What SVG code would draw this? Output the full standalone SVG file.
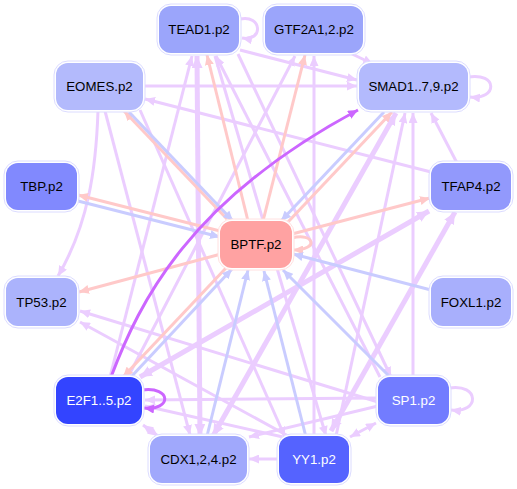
<svg xmlns="http://www.w3.org/2000/svg" width="517" height="489" viewBox="0 0 517 489">
<style>
.e{fill:none;stroke-width:3}
.lav{stroke:#ebcdff;marker-end:url(#aL)}
.lavb{stroke:#ebcdff;stroke-width:5;marker-end:url(#aLT);marker-start:url(#aLT)}
.lav2{stroke:#ebcdff;marker-end:url(#aL);marker-start:url(#aL)}
.pk{stroke:#ffc9c9;marker-end:url(#aP)}
.bl{stroke:#c9ccff;marker-end:url(#aB)}
.pu{stroke:#cc66ff;marker-end:url(#aD)}
.ring{fill:#fff;stroke:#dcdcff;stroke-width:1}
.n text{font-family:"Liberation Sans",Arial,sans-serif;font-size:13.3px;text-anchor:middle;fill:#000}
.n text.w{fill:#fff}
</style>
<defs>
<marker id="aL" markerUnits="userSpaceOnUse" markerWidth="11" markerHeight="9" refX="10" refY="4.5" orient="auto-start-reverse"><path d="M0,0 L10,4.5 L0,9 z" fill="#ebcdff"/></marker>
<marker id="aLT" markerUnits="userSpaceOnUse" markerWidth="13" markerHeight="11" refX="12" refY="5.5" orient="auto-start-reverse"><path d="M0,0 L12,5.5 L0,11 z" fill="#ebcdff"/></marker>
<marker id="aP" markerUnits="userSpaceOnUse" markerWidth="11" markerHeight="9" refX="10" refY="4.5" orient="auto"><path d="M0,0 L10,4.5 L0,9 z" fill="#ffc9c9"/></marker>
<marker id="aB" markerUnits="userSpaceOnUse" markerWidth="11" markerHeight="9" refX="10" refY="4.5" orient="auto"><path d="M0,0 L10,4.5 L0,9 z" fill="#c9ccff"/></marker>
<marker id="aD" markerUnits="userSpaceOnUse" markerWidth="11" markerHeight="9" refX="10" refY="4.5" orient="auto"><path d="M0,0 L10,4.5 L0,9 z" fill="#cc66ff"/></marker>
</defs>
<rect width="517" height="489" fill="#fff"/>
<g id="edges">
<!-- lavender -->
<path class="e lav" d="M240,19 C262,14 264,42 242,38"/>
<path class="e lav" d="M468,77 C498,72 498,100 470,97"/>
<path class="e lav" d="M449,388 C480,383 480,414 451,410"/>
<path class="e lav" d="M240,50 L357,80"/>
<path class="e lav" d="M350,53 L373,64"/>
<path class="e lav" d="M143,86 L357,86"/>
<path class="e lav" d="M431,172 L145,99"/>
<path class="e lav" d="M98,111 C96,170 88,225 58,276"/>
<path class="e lav" d="M105,111 L190,435"/>
<path class="e lav" d="M110,377 L192,56"/>
<path class="e lavb" d="M200,436 L197,56"/>
<path class="e lav" d="M215,56 L326,436"/>
<path class="e lav" d="M380,377 L216,56"/>
<path class="e lav" d="M238,54 L391,377"/>
<path class="e lav" d="M128,377 L295,56"/>
<path class="e lav" d="M314,436 L314,56"/>
<path class="e lav" d="M336,436 L405,113"/>
<path class="e lav" d="M413,377 L413,113"/>
<path class="e lav" d="M457,163 L431,113"/>
<path class="e lavb" d="M213,436 L396,113"/>
<path class="e lavb" d="M140,377 L429,211"/>
<path class="e lavb" d="M331,431 L455,212"/>
<path class="e lav" d="M378,402 L80,311"/>
<path class="e lav" d="M290,437 L80,322"/>
<path class="e lav" d="M378,398 L145,400"/>
<path class="e lav" d="M283,437 L145,406"/>
<path class="e lav" d="M378,406 L249,437"/>
<path class="e lav" d="M279,459 L249,459"/>
<path class="e lav2" d="M143,425 L158,436"/>
<path class="e lav2" d="M376,423 L350,437"/>
<path class="e lav" d="M140,110 L285,437"/>
<!-- pink (from BPTF) -->
<path class="e pk" d="M248,221 L207,55"/>
<path class="e pk" d="M263,221 L305,55"/>
<path class="e pk" d="M227,219 L124,111"/>
<path class="e pk" d="M220,231 L78,195"/>
<path class="e pk" d="M288,222 L392,112"/>
<path class="e pk" d="M292,234 L430,198"/>
<path class="e pk" d="M221,254 L79,292"/>
<path class="e pk" d="M226,268 L123,377"/>
<path class="e pk" d="M292,238 C314,232 320,250 293,250"/>
<!-- blue (into BPTF) -->
<path class="e bl" d="M129,112 L233,221"/>
<path class="e bl" d="M78,201 L220,237"/>
<path class="e bl" d="M384,112 L281,221"/>
<path class="e bl" d="M431,290 L293,254"/>
<path class="e bl" d="M390,377 L283,270"/>
<path class="e bl" d="M306,437 L264,271"/>
<path class="e bl" d="M207,436 L248,270"/>
<path class="e bl" d="M131,377 L232,269"/>
<!-- purple -->
<path class="e pu" d="M111,377 C140,300 190,200 358,110"/>
<path class="e pu" d="M142,390 C172,386 172,411 144,408"/>
</g>
<g id="TEAD1" class="n"><rect class="ring" x="157" y="4" width="84" height="51" rx="14"/><rect x="159" y="6" width="80" height="47" rx="12" fill="#9ba5fb"/><text x="199" y="34">TEAD1.p2</text></g>
<g id="GTF2A12" class="n"><rect class="ring" x="263" y="4" width="102" height="51" rx="14"/><rect x="265" y="6" width="98" height="47" rx="12" fill="#9ba5fb"/><text x="314" y="34">GTF2A1,2.p2</text></g>
<g id="EOMES" class="n"><rect class="ring" x="54" y="61" width="91" height="51" rx="14"/><rect x="56" y="63" width="87" height="47" rx="12" fill="#b3bafc"/><text x="99.5" y="91">EOMES.p2</text></g>
<g id="SMAD" class="n"><rect class="ring" x="357" y="61" width="113" height="51" rx="14"/><rect x="359" y="63" width="109" height="47" rx="12" fill="#b3bafd"/><text x="413.5" y="91">SMAD1..7,9.p2</text></g>
<g id="TBP" class="n"><rect class="ring" x="4" y="161" width="75" height="51" rx="14"/><rect x="6" y="163" width="71" height="47" rx="12" fill="#8189fe"/><text x="41.5" y="191">TBP.p2</text></g>
<g id="TFAP4" class="n"><rect class="ring" x="429" y="161" width="84" height="51" rx="14"/><rect x="431" y="163" width="80" height="47" rx="12" fill="#9299fc"/><text x="471" y="191">TFAP4.p2</text></g>
<g id="BPTF" class="n"><rect class="ring" x="218" y="219" width="76" height="51" rx="14" style="stroke:#ffe0e0"/><rect x="220" y="221" width="72" height="47" rx="12" fill="#ffa2a2"/><text x="256" y="249">BPTF.p2</text></g>
<g id="TP53" class="n"><rect class="ring" x="4" y="276" width="75" height="52" rx="14"/><rect x="6" y="278" width="71" height="48" rx="12" fill="#abb3fc"/><text x="41.5" y="306.5">TP53.p2</text></g>
<g id="FOXL1" class="n"><rect class="ring" x="429" y="276" width="84" height="52" rx="14"/><rect x="431" y="278" width="80" height="48" rx="12" fill="#a8affc"/><text x="471" y="306.5">FOXL1.p2</text></g>
<g id="E2F1" class="n"><rect class="ring" x="54" y="375" width="90" height="51" rx="14"/><rect x="56" y="377" width="86" height="47" rx="12" fill="#3344ff"/><text class="w" x="99" y="405">E2F1..5.p2</text></g>
<g id="SP1" class="n"><rect class="ring" x="376" y="375" width="75" height="51" rx="14"/><rect x="378" y="377" width="71" height="47" rx="12" fill="#727cff"/><text class="w" x="413.5" y="405">SP1.p2</text></g>
<g id="CDX" class="n"><rect class="ring" x="148" y="434" width="101" height="51" rx="14"/><rect x="150" y="436" width="97" height="47" rx="12" fill="#a0a8fc"/><text x="198.5" y="464">CDX1,2,4.p2</text></g>
<g id="YY1" class="n"><rect class="ring" x="277" y="434" width="74" height="51" rx="14"/><rect x="279" y="436" width="70" height="47" rx="12" fill="#5563ff"/><text class="w" x="314" y="464">YY1.p2</text></g>
</svg>
